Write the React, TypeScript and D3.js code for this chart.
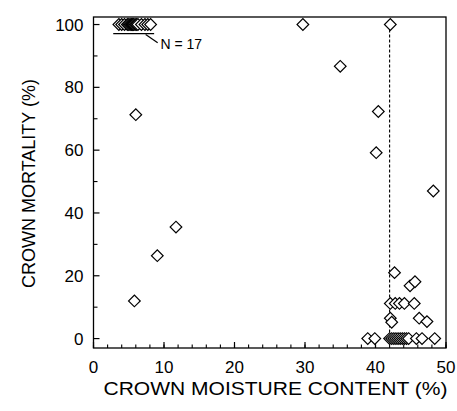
import * as d3 from "d3";

// crown moisture content (%) and crown mortality (%) for each tree
const moisture = [
  3.6, 4.0, 4.4, 4.8, 5.0, 5.2, 5.4, 5.5, 5.6, 5.7, 5.9, 6.1, 6.3, 6.8, 7.3, 7.7, 8.1,
  29.7, 42.1, 35.0, 40.4, 40.1, 48.2, 6.0, 11.7, 9.05, 5.8,
  42.7, 44.9, 45.6,
  42.1, 42.8, 43.4, 44.1, 45.5,
  42.1, 42.3, 46.2, 47.3,
  38.9, 39.9, 42.0, 42.3, 42.6, 42.9, 43.2, 43.5, 43.8, 44.1, 44.4, 44.7, 45.8, 46.6, 48.4,
];
const mortality = [
  100, 100, 100, 100, 100, 100, 100, 100, 100, 100, 100, 100, 100, 100, 100, 100, 100,
  100, 100, 86.7, 72.3, 59.2, 47.0, 71.3, 35.5, 26.4, 12.0,
  21.0, 16.8, 18.1,
  11.2, 11.2, 11.2, 11.2, 11.2,
  6.5, 5.2, 6.5, 5.4,
  0, 0, 0, 0, 0, 0, 0, 0, 0, 0, 0, 0, 0, 0, 0,
];

const xTicks = [0, 10, 20, 30, 40, 50];
const xMinor = d3.range(0, 50.01, 2);
const yTicks = [0, 20, 40, 60, 80, 100];
const yMinor = [10, 30, 50, 70, 90];
const thresholdX = 42.0; // dashed reference line

const W = 457;
const H = 411;
const font = "'Liberation Sans', Arial, Helvetica, sans-serif";

export default function App() {
  const x = d3.scaleLinear().domain([0, 50]).range([93.5, 446]);
  const y = d3.scaleLinear().domain([-3, 102.4]).range([348, 17]);
  const diamond = d3.symbol(d3.symbolSquare, 68)();
  const pts = moisture.map((m, i) => ({ m, c: mortality[i] }));

  const [x0, x1] = x.range();
  const [yb, yt] = y.range();

  return (
    <svg
      width={W}
      height={H}
      style={{ position: "absolute", left: 0, top: 0, background: "#fff" }}
      fontFamily={font}
    >
      {/* frame */}
      <rect x={x0} y={yt} width={x1 - x0} height={yb - yt} fill="none" stroke="#000" strokeWidth={1.3} />

      {/* y ticks */}
      {yTicks.map((t) => (
        <g key={"y" + t}>
          <line x1={x0} x2={x0 + 6} y1={y(t)} y2={y(t)} stroke="#000" strokeWidth={1.2} />
          <text x={83.5} y={y(t)} dy="0.36em" textAnchor="end" fontSize={17}>
            {t}
          </text>
        </g>
      ))}
      {yMinor.map((t) => (
        <line key={"ym" + t} x1={x0} x2={x0 + 4} y1={y(t)} y2={y(t)} stroke="#000" strokeWidth={1.1} />
      ))}

      {/* x ticks */}
      {xMinor.map((t) => (
        <line key={"xm" + t} x1={x(t)} x2={x(t)} y1={yb} y2={yb - 3.5} stroke="#000" strokeWidth={1.1} />
      ))}
      {xTicks.map((t) => (
        <g key={"x" + t}>
          <line x1={x(t)} x2={x(t)} y1={yb} y2={yb - 6} stroke="#000" strokeWidth={1.2} />
          <text x={x(t)} y={373} textAnchor="middle" fontSize={17}>
            {t}
          </text>
        </g>
      ))}

      {/* dashed line */}
      <line
        x1={x(thresholdX)}
        x2={x(thresholdX)}
        y1={y(100)}
        y2={y(0)}
        stroke="#000"
        strokeWidth={1.1}
        strokeDasharray="3,2"
      />

      {/* points */}
      {pts.map((p, i) => (
        <path
          key={i}
          d={diamond}
          transform={`translate(${x(p.m)},${y(p.c)}) rotate(45)`}
          fill="#fff"
          stroke="#000"
          strokeWidth={1.2}
        />
      ))}

      {/* N = 17 annotation */}
      <line x1={x(2.8)} x2={x(8.6)} y1={y(97.1)} y2={y(97.1)} stroke="#000" strokeWidth={1.4} />
      <line x1={x(7.4)} x2={x(9.1)} y1={y(96.8)} y2={y(94.2)} stroke="#000" strokeWidth={1.2} />
      <text x={x(9.5)} y={49} fontSize={14}>
        N = 17
      </text>

      {/* axis titles */}
      <text x={275.5} y={394.5} textAnchor="middle" fontSize={19} textLength={344} lengthAdjust="spacingAndGlyphs">
        CROWN MOISTURE CONTENT (%)
      </text>
      <text
        transform={`translate(35,${183.5}) rotate(-90)`}
        textAnchor="middle"
        fontSize={18}
      >
        CROWN MORTALITY (%)
      </text>
    </svg>
  );
}
